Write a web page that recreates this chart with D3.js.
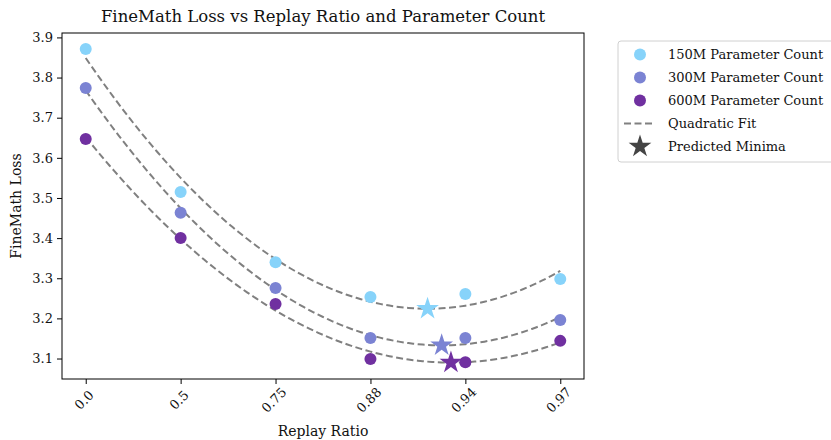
<!DOCTYPE html>
<html>
<head>
<meta charset="utf-8">
<script src="https://cdn.jsdelivr.net/npm/d3@7"></script>
<style>
  html, body { margin: 0; padding: 0; background: #fff; }
  svg { display: block; }
  text { font-family: "DejaVu Serif", "Liberation Serif", serif; fill: #111; }
</style>
</head>
<body>
<svg id="chart" width="831" height="440"></svg>
<script>
// Replay ratios (plotted as evenly spaced categories)
const replayRatios = ["0.0", "0.5", "0.75", "0.88", "0.94", "0.97"];
const seriesNames = ["150M Parameter Count", "300M Parameter Count", "600M Parameter Count"];
const seriesColors = ["#87d3fa", "#7b83d3", "#7030a0"];
const loss150M = [3.871, 3.515, 3.340, 3.253, 3.261, 3.298];
const loss300M = [3.774, 3.463, 3.276, 3.151, 3.151, 3.196];
const loss600M = [3.647, 3.400, 3.236, 3.099, 3.091, 3.144];
const yTicks = [3.1, 3.2, 3.3, 3.4, 3.5, 3.6, 3.7, 3.8, 3.9];

const seriesValues = [loss150M, loss300M, loss600M];

const svg = d3.select("#chart");
const margin = { left: 62, right: 247, top: 33, bottom: 61 };
const W = 831, H = 440;
const plotW = W - margin.left - margin.right;
const plotH = H - margin.top - margin.bottom;

const x = d3.scaleLinear().domain([-0.25, replayRatios.length - 1 + 0.25]).range([0, plotW]);
const y = d3.scaleLinear().domain([3.049, 3.911]).range([plotH, 0]);

const g = svg.append("g").attr("transform", `translate(${margin.left},${margin.top})`);

// Least-squares quadratic fit over category index
function quadFit(ys) {
  let S = [0, 0, 0, 0, 0], T = [0, 0, 0];
  ys.forEach((v, i) => {
    let p = 1;
    for (let k = 0; k < 5; k++) { S[k] += p; if (k < 3) T[k] += p * v; p *= i; }
  });
  // Solve 3x3 normal equations
  const A = [[S[0], S[1], S[2], T[0]], [S[1], S[2], S[3], T[1]], [S[2], S[3], S[4], T[2]]];
  for (let c = 0; c < 3; c++) {
    for (let r = c + 1; r < 3; r++) {
      const f = A[r][c] / A[c][c];
      for (let k = c; k < 4; k++) A[r][k] -= f * A[c][k];
    }
  }
  const coef = [0, 0, 0];
  for (let r = 2; r >= 0; r--) {
    let s = A[r][3];
    for (let k = r + 1; k < 3; k++) s -= A[r][k] * coef[k];
    coef[r] = s / A[r][r];
  }
  return coef; // a + b x + c x^2
}

const fits = seriesValues.map(quadFit);

// Fit curves
const line = d3.line().x(d => x(d[0])).y(d => y(d[1]));
fits.forEach(([a, b, c]) => {
  const pts = d3.range(0, 5.0001, 0.05).map(t => [t, a + b * t + c * t * t]);
  g.append("path").attr("d", line(pts))
    .attr("fill", "none").attr("stroke", "#808080")
    .attr("stroke-width", 2).attr("stroke-dasharray", "7,3.5");
});

// Data points
seriesValues.forEach((vals, si) => {
  g.selectAll(null).data(vals).enter().append("circle")
    .attr("cx", (d, i) => x(i)).attr("cy", d => y(d))
    .attr("r", 6).attr("fill", seriesColors[si]);
});

// Predicted minima at the vertex of each fit
const star = d3.symbol().type(d3.symbolStar).size(160);
fits.forEach(([a, b, c], si) => {
  const xv = -b / (2 * c);
  const yv = a + b * xv + c * xv * xv;
  g.append("path").attr("d", star())
    .attr("transform", `translate(${x(xv)},${y(yv)})`)
    .attr("fill", seriesColors[si]);
});

// Frame
g.append("rect").attr("width", plotW).attr("height", plotH)
  .attr("fill", "none").attr("stroke", "#000").attr("stroke-width", 1);

// Y axis
const yAxis = g.append("g").call(d3.axisLeft(y).tickValues(yTicks).tickFormat(d3.format(".1f")).tickSize(5).tickPadding(4));
yAxis.select(".domain").remove();
yAxis.selectAll("text").attr("font-size", 13).attr("font-family", "DejaVu Serif");

// X axis
const xAxis = g.append("g").attr("transform", `translate(0,${plotH})`)
  .call(d3.axisBottom(x).tickValues(d3.range(replayRatios.length)).tickFormat(i => replayRatios[i]).tickSize(5));
xAxis.select(".domain").remove();
xAxis.selectAll("text")
  .attr("font-size", 13).attr("font-family", "DejaVu Serif")
  .attr("text-anchor", "middle")
  .attr("y", 0).attr("dy", 0)
  .attr("transform", "translate(-2,21) rotate(-45)")
  .attr("dominant-baseline", "central");

// Titles
svg.append("text").attr("x", margin.left + plotW / 2).attr("y", 22)
  .attr("text-anchor", "middle").attr("font-size", 16.5)
  .text("FineMath Loss vs Replay Ratio and Parameter Count");
svg.append("text").attr("x", margin.left + plotW / 2).attr("y", 436)
  .attr("text-anchor", "middle").attr("font-size", 14)
  .text("Replay Ratio");
svg.append("text").attr("transform", `translate(21,${margin.top + plotH / 2}) rotate(-90)`)
  .attr("text-anchor", "middle").attr("font-size", 14)
  .text("FineMath Loss");

// Legend
const lg = svg.append("g").attr("transform", "translate(618,41)");
lg.append("rect").attr("width", 240).attr("height", 121).attr("rx", 3)
  .attr("fill", "#fff").attr("stroke", "#d0d0d0");
const rowY = i => 13.5 + i * 23;
const legendFont = 13;
seriesNames.forEach((name, i) => {
  lg.append("circle").attr("cx", 22).attr("cy", rowY(i)).attr("r", 6).attr("fill", seriesColors[i]);
  lg.append("text").attr("x", 50).attr("y", rowY(i)).attr("dy", "0.35em").attr("font-size", legendFont).text(name);
});
lg.append("line").attr("x1", 6).attr("x2", 37).attr("y1", rowY(3)).attr("y2", rowY(3))
  .attr("stroke", "#808080").attr("stroke-width", 2).attr("stroke-dasharray", "7,3.5");
lg.append("text").attr("x", 50).attr("y", rowY(3)).attr("dy", "0.35em").attr("font-size", legendFont).text("Quadratic Fit");
lg.append("path").attr("d", star()).attr("transform", `translate(22,${rowY(4)})`).attr("fill", "#444");
lg.append("text").attr("x", 50).attr("y", rowY(4)).attr("dy", "0.35em").attr("font-size", legendFont).text("Predicted Minima");
</script>
</body>
</html>
